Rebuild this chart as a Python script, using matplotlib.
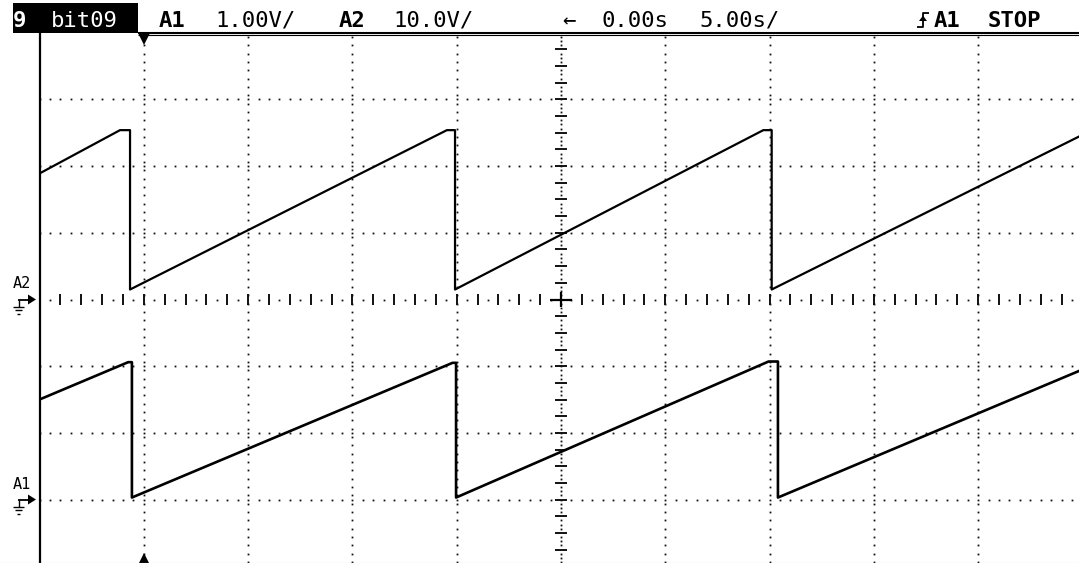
import numpy as np
import matplotlib.pyplot as plt
from matplotlib.lines import Line2D
from matplotlib.patches import Rectangle, Polygon
from matplotlib.transforms import blended_transform_factory

plt.rcParams['font.family'] = ['DejaVu Sans Mono', 'DejaVu Sans']

W, H = 1079, 563

# scope settings
time_per_div = 5.0     # s/div
a1_scale = 1.0         # V/div
a2_scale = 10.0        # V/div
a1_ground = -3         # divisions from centre
a2_ground = 0
trig_time = -20.0      # s

# A2 trace (time s, level V)
a2_t = [-25.0, -21.14, -20.66, -20.66, -5.47, -5.08, -5.08, 9.70, 10.10, 10.10, 25.0]
a2_v = [18.9, 25.4, 25.4, 1.5, 25.4, 25.4, 1.5, 25.4, 25.4, 1.5, 24.7]

# A1 trace (time s, level V)
a1_t = [-25.0, -20.75, -20.57, -20.57, -5.20, -5.03, -5.03, 9.95, 10.40, 10.40, 25.0]
a1_v = [1.50, 2.06, 2.06, 0.03, 2.05, 2.05, 0.03, 2.07, 2.07, 0.03, 1.95]

# header
header_tag = ["9", "bit09"]
header_chan = [("A1", "1.00V/"), ("A2", "10.0V/")]
header_time = ["←", "0.00s", "5.00s/"]
header_trig = ["A1", "STOP"]


def fx(x):
    return x / W


def fy(y):
    return 1 - y / H


fig = plt.figure(figsize=(W / 100, H / 100), dpi=100)
ax = fig.add_axes([39.5 / W, 1 - 566.2 / H, 1043 / W, 533.4 / H])
ax.set_xlim(-5 * time_per_div, 5 * time_per_div)
ax.set_ylim(-4, 4)
ax.set_axis_off()

dot = dict(ls="none", marker="s", ms=1.3, mew=0, color="#111111")
sub = time_per_div / 10   # 0.1 div in seconds

# dotted graticule
xs = np.arange(-50, 51) * sub
for gy in [-3, -2, -1, 1, 2, 3]:
    ax.plot(xs, np.full(xs.shape, gy), **dot)
ys = np.arange(-63, 64, 2) / 16
for gx in [-4, -3, -2, -1, 1, 2, 3, 4]:
    ax.plot(np.full(ys.shape, gx * time_per_div), ys, **dot)

# centre axes with minor ticks
xt = np.arange(-50, 51, 2) * sub
ax.vlines(xt, -0.075, 0.075, color="#111111", lw=1.4)
xd = np.arange(-49, 50, 2) * sub
ax.plot(xd, np.zeros(xd.shape), **dot)

yt = np.arange(-16, 17) / 4
ax.hlines(yt, -0.29, 0.29, color="#111111", lw=1.4)
yd = np.array([v for v in np.arange(-64, 65) / 16 if (v * 4) % 1 != 0])
ax.plot(np.zeros(yd.shape), yd, **dot)
ax.hlines(0, -0.55, 0.55, color="black", lw=1.6)
ax.vlines(0, -0.11, 0.11, color="black", lw=1.6)

# traces
ax.plot(a2_t, np.array(a2_v) / a2_scale + a2_ground, color="black", lw=1.6)
ax.plot(a1_t, np.array(a1_v) / a1_scale + a1_ground, color="black", lw=1.9)

# trigger position markers
trans = blended_transform_factory(ax.transData, fig.transFigure)
ax.plot([trig_time], [fy(38.5)], marker="v", ms=8.5, color="black", mew=0,
        transform=trans, clip_on=False)
ax.plot([trig_time], [fy(558.5)], marker="^", ms=8.5, color="black", mew=0,
        transform=trans, clip_on=False)


def fline(xx, yy, lw=1.4, color="black"):
    fig.add_artist(Line2D([fx(v) for v in xx], [fy(v) for v in yy], lw=lw,
                          color=color, solid_capstyle="butt"))


# frame and header rules
fline([40, 40], [33, 563], lw=1.6)
fline([138, W], [32.5, 32.5], lw=1.5)
fline([138, W], [35, 35], lw=0.8)
fline([0, W], [562.5, 562.5], lw=0.8, color="#c8c8c8")


# ground markers on the left edge
def ground(level, label):
    py = H - ax.transData.transform((0, level))[1]
    fig.text(fx(13), fy(py - 11), label, fontsize=11, ha="left",
             va="baseline")
    fline([18, 29], [py, py], lw=1.3)
    fig.add_artist(Polygon([(fx(28), fy(py - 5)), (fx(36), fy(py)),
                            (fx(28), fy(py + 5))], closed=True,
                           color="black", lw=0))
    fline([18.5, 18.5], [py, py + 7], lw=1.0)
    fline([13, 24], [py + 7, py + 7], lw=1.0)
    fline([15.5, 21.5], [py + 10.5, py + 10.5], lw=1.0)
    fline([17.5, 19.5], [py + 14, py + 14], lw=1.0)


ground(a2_ground, "A2")
ground(a1_ground, "A1")

# header bar
fig.add_artist(Rectangle((fx(13), fy(33)), (138 - 13) / W, 30 / H,
                         color="black", lw=0))
base = fy(27)
fs = 16
fig.text(fx(19), base, header_tag[0], color="white", fontsize=fs,
         fontweight="bold", ha="center", va="baseline")
fig.text(fx(84), base, header_tag[1], color="white", fontsize=fs,
         ha="center", va="baseline")

for (name, val), cn, cv in zip(header_chan, [172, 352], [256, 433.5]):
    fig.text(fx(cn), base, name, fontsize=fs, fontweight="bold",
             ha="center", va="baseline")
    fig.text(fx(cv), base, val, fontsize=fs, ha="center", va="baseline")

for s, c in zip(header_time, [569, 635, 739.5]):
    fig.text(fx(c), base, s, fontsize=fs, ha="center", va="baseline")

# rising edge trigger symbol
fline([917, 923, 923, 929], [27, 27, 12.5, 12.5], lw=1.3)
fig.add_artist(Polygon([(fx(919), fy(21)), (fx(927), fy(21)),
                        (fx(923), fy(15.5))], closed=True, color="black",
                       lw=0))
for s, c in zip(header_trig, [947.5, 1014.5]):
    fig.text(fx(c), base, s, fontsize=fs, fontweight="bold", ha="center",
             va="baseline")

fig.savefig("out.png", dpi=100)
